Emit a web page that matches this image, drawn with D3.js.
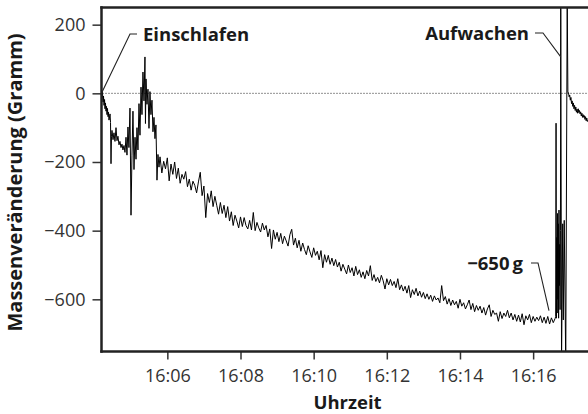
<!DOCTYPE html>
<html><head><meta charset="utf-8">
<script src="https://cdn.jsdelivr.net/npm/d3@7"></script>
<style>html,body{margin:0;padding:0;background:#fff;} svg{display:block;}</style>
</head><body>
<svg id="chart" width="588" height="414"></svg>
<script>
// ---- data (seconds after 16:04:00, mass change in grams) ----
const onsetSec = [12,13,13.6,14.5,15.3,16.1,17,17.7,18.5,19.4,20.2,21,21.8,22.7,23.5,24.3,26,26.8,27.6,28.4,29.2,30.9,32.5,34.1,35.8,37.4,39,40.7,42.3,44,45.6,47.2,48.9,50.5,52.2,53.8,55.4,57,58.7,60.4,62,63.6,65.3,67,68.6,70.2,71.8,73.5,75.1,76.8,78.4,80,81.7,83.3,84.1,85,86.6,88.2,89.9,91.5,93.1,94.8,96.4,98.1,99.7,101.3,103,104.6,106.3];
const onsetGrams = [0,-12,3,-25,-8,-35,-18,-45,-28,-52,-38,-62,-44,-68,-55,-78,-60,-85,-205,-125,-108,-135,-115,-140,-100,-138,-125,-150,-140,-158,-148,-165,-152,-172,-128,-180,-98,-158,-43,-355,-180,-52,-222,-128,-192,-100,-165,-30,-122,18,-62,62,-22,106,-88,42,-32,12,-102,5,-62,-20,-112,-70,-132,-92,-253,-178,-215];
const nightStartSec = 108;
const nightStepSec = 3;
const nightGrams = [
  -185,-232,-198,-220,-188,-255,-206,-236,-200,-248,-218,-262,-236,-250,-228,-272,
  -250,-282,-256,-268,-290,-258,-230,-298,-270,-362,-292,-318,-284,-330,-300,-326,
  -352,-318,-350,-326,-362,-330,-372,-345,-385,-355,-372,-392,-360,-388,-362,-385,
  -395,-370,-398,-347,-400,-376,-392,-404,-378,-398,-385,-418,-395,-452,-398,-425,
  -405,-432,-408,-438,-416,-430,-445,-412,-396,-442,-422,-450,-428,-460,-436,-455,
  -470,-444,-462,-478,-450,-472,-460,-485,-458,-508,-470,-492,-472,-498,-480,-502,
  -484,-506,-492,-518,-498,-512,-526,-500,-522,-508,-532,-504,-528,-514,-536,-520,
  -540,-516,-532,-502,-545,-528,-548,-536,-552,-530,-546,-570,-540,-558,-542,-560,
  -548,-566,-540,-572,-558,-576,-562,-582,-560,-595,-572,-586,-568,-590,-576,-594,
  -580,-598,-584,-600,-588,-606,-590,-602,-596,-610,-560,-604,-592,-614,-598,-618,
  -602,-616,-606,-626,-600,-620,-610,-628,-616,-602,-630,-612,-636,-618,-632,-620,
  -640,-624,-646,-628,-616,-650,-632,-644,-640,-664,-636,-656,-640,-650,-632,-654,
  -640,-660,-644,-664,-646,-666,-642,-674,-648,-660,-644,-668,-650,-664,-652,-662,
  -648,-668,-652,-670,-650,-672,-654,-668,-656];
const wakeSec = [757,757.6,758.2,758.8,759.4,760,760.6,761.2,761.8,762.4,763,763.6,764.2,764.8,765.3,766.6,768.5,769.5,771,773.5,775.9,777];
const wakeGrams = [-650,-87,-655,-420,-640,-350,-600,-380,-655,-340,-560,-440,-630,-400,280,-790,-380,-660,-370,-790,280,2];
const morningSec = [778,779,780,781,782,783,784,785,786,787,788,789,790,791,792,793,794,795,796,797,798,799,800,801,802,803,804,805,806,807,808,809,810];
const morningGrams = [2,-10,-5,-20,-12,-30,-22,-38,-28,-45,-35,-50,-40,-55,-46,-58,-45,-56,-50,-60,-54,-66,-58,-70,-62,-70,-65,-76,-68,-80,-72,-82,-78];

const yTicks = [200, 0, -200, -400, -600];
const xTickMinutes = [6, 8, 10, 12, 14, 16];
const annotationTexts = ["Einschlafen", "Aufwachen", "\u2212650\u2009g"];
const annotationSec = [12, 765.3, 746];
const annotationGrams = [0, 106, -633];

// ---- build series ----
const base = new Date(2020, 0, 1, 16, 4, 0);
const toDate = s => new Date(base.getTime() + s * 1000);
const points = [];
onsetSec.forEach((s, i) => points.push({t: toDate(s), v: onsetGrams[i]}));
nightGrams.forEach((g, i) => points.push({t: toDate(nightStartSec + i * nightStepSec), v: g}));
wakeSec.forEach((s, i) => points.push({t: toDate(s), v: wakeGrams[i]}));
morningSec.forEach((s, i) => points.push({t: toDate(s), v: morningGrams[i]}));

const L = 101.5, R = 588, T = 7.5, B = 351.5;
const x = d3.scaleTime().domain([toDate(12), toDate(810)]).range([L, R]);
const y = d3.scaleLinear().domain([-752, 250]).range([B, T]);

const svg = d3.select("#chart");
const font = "'Open Sans', 'Noto Sans', sans-serif";

svg.append("defs").append("clipPath").attr("id", "clip")
  .append("rect").attr("x", L).attr("y", T).attr("width", R - L).attr("height", B - T);

// zero line
svg.append("line").attr("x1", L + 1).attr("x2", R).attr("y1", y(0)).attr("y2", y(0))
  .attr("stroke", "#222").attr("stroke-width", 1).attr("stroke-dasharray", "1,2");

// data line
svg.append("path").datum(points)
  .attr("clip-path", "url(#clip)")
  .attr("fill", "none").attr("stroke", "#000").attr("stroke-width", 1)
  .attr("stroke-linejoin", "round")
  .attr("d", d3.line().x(d => x(d.t)).y(d => y(d.v)));

// axes
const yAxis = d3.axisLeft(y).tickValues(yTicks).tickSize(9).tickSizeOuter(0).tickPadding(7)
  .tickFormat(d3.format("d"));
const gy = svg.append("g").attr("transform", `translate(${L},0)`).call(yAxis);
const xAxis = d3.axisBottom(x).tickValues(xTickMinutes.map(m => toDate((m - 4) * 60)))
  .tickSize(8).tickSizeOuter(0).tickPadding(10).tickFormat(d3.timeFormat("%H:%M"));
const gx = svg.append("g").attr("transform", `translate(0,${B})`).call(xAxis);
[gx, gy].forEach(g => {
  g.select(".domain").remove();
  g.selectAll(".tick line").attr("stroke", "#333").attr("stroke-width", 1.5);
  g.selectAll(".tick text").attr("fill", "#333").style("font-family", font).style("font-size", "18px");
});

// frame lines
svg.append("line").attr("x1", L).attr("x2", L).attr("y1", T - 1.25).attr("y2", B + 1.25)
  .attr("stroke", "#222").attr("stroke-width", 2.5);
svg.append("line").attr("x1", L - 1.25).attr("x2", R).attr("y1", B).attr("y2", B)
  .attr("stroke", "#222").attr("stroke-width", 2.5);
svg.append("line").attr("x1", L - 1.25).attr("x2", R).attr("y1", T).attr("y2", T)
  .attr("stroke", "#222").attr("stroke-width", 2.5);

// axis titles
svg.append("text").attr("transform", "translate(22,182.5) rotate(-90)")
  .attr("text-anchor", "middle").style("font-family", font).style("font-weight", 700)
  .style("font-size", "20px").attr("fill", "#1a1a1a").text("Massenveränderung (Gramm)");
svg.append("text").attr("x", 347.5).attr("y", 408.5)
  .attr("text-anchor", "middle").style("font-family", font).style("font-weight", 700)
  .style("font-size", "18.5px").attr("fill", "#1a1a1a").text("Uhrzeit");

// annotations: label placement (pixels) relative to chart
const labelPlace = [
  {tx: 143, ty: 41, anchor: "start", hx1: 130, hx2: 137, hy: 34},
  {tx: 529, ty: 40, anchor: "end", hx1: 543, hx2: 535, hy: 33},
  {tx: 523, ty: 270, anchor: "end", hx1: 538, hx2: 531, hy: 263}
];
annotationTexts.forEach((txt, i) => {
  const p = labelPlace[i];
  const ax = x(toDate(annotationSec[i])), ay = y(annotationGrams[i]);
  svg.append("path")
    .attr("d", `M${ax},${ay}L${p.hx1},${p.hy}L${p.hx2},${p.hy}`)
    .attr("fill", "none").attr("stroke", "#222").attr("stroke-width", 1.1);
  svg.append("text").attr("x", p.tx).attr("y", p.ty).attr("text-anchor", p.anchor)
    .style("font-family", font).style("font-weight", 700).style("font-size", "18.5px")
    .attr("fill", "#1a1a1a").text(txt);
});
</script>
</body></html>
